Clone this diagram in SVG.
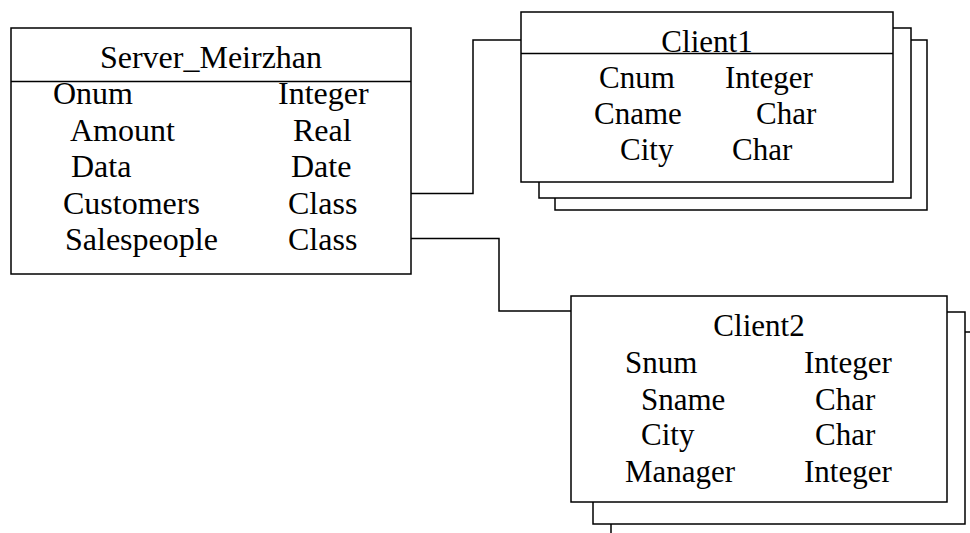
<svg xmlns="http://www.w3.org/2000/svg" width="970" height="533" viewBox="0 0 970 533">
  <style>
    .box { fill: #ffffff; stroke: #000000; stroke-width: 1.5; }
    .edge { fill: none; stroke: #000000; stroke-width: 1.5; }
    .lbl { font-family: 'Liberation Serif', 'Times New Roman', serif; font-size: 31px; fill: #000000; }
    .big { font-size: 32px; }
    .title { text-anchor: middle; }
  </style>

  <!-- Connectors from the server class to the two clients -->
  <g id="connectors">
    <polyline class="edge" points="411,193.5 473,193.5 473,40 521,40"/>
    <polyline class="edge" points="411,238.5 499,238.5 499,311 571,311"/>
  </g>

  <!-- Server class -->
  <g id="server" class="lbl big">
    <rect class="box" x="11" y="28" width="400" height="246"/>
    <line class="edge" x1="11" y1="81.5" x2="411" y2="81.5"/>
    <text class="title" x="211" y="68">Server_Meirzhan</text>
    <text x="53" y="103.5">Onum</text>
    <text x="278" y="103.5">Integer</text>
    <text x="70" y="140.5">Amount</text>
    <text x="293" y="140.5">Real</text>
    <text x="71" y="177">Data</text>
    <text x="291" y="177">Date</text>
    <text x="63" y="214">Customers</text>
    <text x="288" y="214">Class</text>
    <text x="65" y="250">Salespeople</text>
    <text x="288" y="250">Class</text>
  </g>

  <!-- Client1, drawn as a stack of three sheets -->
  <g id="client1" class="lbl">
    <polyline class="edge" points="911,40 927,40 927,210 555,210 555,198"/>
    <polyline class="edge" points="893,28 911,28 911,198 539,198 539,182"/>
    <rect class="box" x="521" y="12" width="372" height="170"/>
    <line class="edge" x1="521" y1="53.5" x2="893" y2="53.5"/>
    <text class="title" x="707" y="51.5">Client1</text>
    <text x="599" y="87.5">Cnum</text>
    <text x="725" y="87.5">Integer</text>
    <text x="594" y="124">Cname</text>
    <text x="756" y="124">Char</text>
    <text x="620" y="159.5">City</text>
    <text x="732" y="159.5">Char</text>
  </g>

  <!-- Client2, drawn as a stack of sheets running off the page -->
  <g id="client2" class="lbl">
    <polyline class="edge" points="965,332 980,332"/>
    <polyline class="edge" points="611,524 611,545"/>
    <polyline class="edge" points="947,312 965,312 965,524 593,524 593,502"/>
    <rect class="box" x="571" y="296" width="376" height="206"/>
    <text class="title" x="759" y="336">Client2</text>
    <text x="625" y="373">Snum</text>
    <text x="804" y="373">Integer</text>
    <text x="641" y="409.5">Sname</text>
    <text x="815" y="409.5">Char</text>
    <text x="641" y="444.5">City</text>
    <text x="815" y="444.5">Char</text>
    <text x="625" y="481.5">Manager</text>
    <text x="804" y="481.5">Integer</text>
  </g>
</svg>
